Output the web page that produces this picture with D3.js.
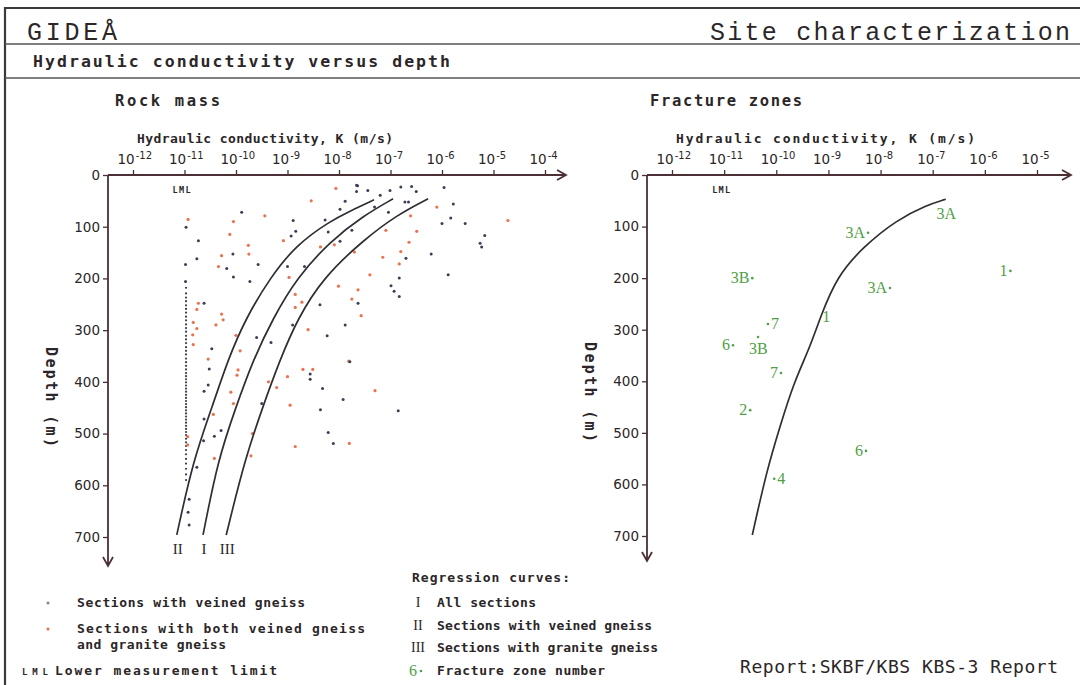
<!DOCTYPE html>
<html>
<head>
<meta charset="utf-8">
<script src="https://cdn.jsdelivr.net/npm/d3@7"></script>
<style>
body { margin: 0; background: #fff; }
svg text { fill: #2b2627; }
</style>
</head>
<body>
<div id="chart"></div>
<script>
// ---- data (K as log10 exponent, depth in m) ----
const kTicksLeft = [-12, -11, -10, -9, -8, -7, -6, -5, -4];
const kTicksRight = [-12, -11, -10, -9, -8, -7, -6, -5];
const depthTicks = [0, 100, 200, 300, 400, 500, 600, 700];

// sections with veined gneiss (dark dots)
const veinedGneiss = [
  [-9.89,72],[-10.97,101],[-10.73,127],[-10.76,162],[-10.98,173],[-8.89,88],[-8.84,109],[-8.93,118],
  [-8.27,87],[-7.88,51],[-7.98,66],[-7.64,21],[-7.75,107],[-7.98,128],[-8.21,110],[-10.06,153],
  [-10.18,181],[-10.05,197],[-9.73,206],[-9.57,173],[-9.0,177],[-8.67,177],[-8.37,251],[-7.88,290],
  [-8.23,311],[-8.90,290],[-9.32,324],[-9.60,314],[-10.47,336],[-10.62,248],[-10.98,206],[-7.63,248],
  [-7.66,20],[-7.66,32],[-7.44,30],[-7.20,39],[-7.01,30],[-6.80,23],[-6.59,22],[-6.50,32],
  [-5.96,24],[-6.72,52],[-6.65,52],[-7.04,72],[-7.31,62],[-5.78,56],[-5.83,83],[-6.0,94],
  [-5.55,94],[-5.17,117],[-5.26,132],[-5.23,139],[-6.70,161],[-6.21,153],[-6.83,199],[-5.88,193],
  [-6.99,214],[-6.93,225],[-6.83,235],[-10.52,375],[-10.62,418],[-10.54,406],[-10.62,472],[-10.63,514],
  [-10.42,505],[-10.29,494],[-10.76,565],[-8.56,385],[-8.56,395],[-8.32,413],[-7.92,434],[-8.36,454],
  [-8.21,498],[-8.11,519],[-7.79,361],[-9.50,442],[-6.85,456],[-10.91,627],[-10.93,652],[-10.91,677]
];

// sections with both veined gneiss and granite gneiss (orange dots)
const bothGneiss = [
  [-10.93,86],[-10.05,90],[-10.12,115],[-9.44,79],[-8.54,50],[-9.76,136],[-9.75,153],[-10.28,156],
  [-10.34,177],[-9.08,127],[-8.36,139],[-8.09,135],[-7.70,149],[-8.97,198],[-8.85,231],[-8.72,246],
  [-8.85,256],[-8.01,215],[-7.75,240],[-10.73,248],[-10.76,260],[-10.83,285],[-10.76,297],[-10.84,309],
  [-10.83,328],[-10.28,269],[-10.25,280],[-10.39,290],[-10.0,310],[-9.92,340],[-10.54,356],[-8.60,299],
  [-7.81,360],[-8.06,26],[-6.10,62],[-6.61,79],[-7.09,107],[-6.49,109],[-6.64,130],[-6.80,148],
  [-7.15,159],[-6.83,172],[-7.40,193],[-7.63,222],[-7.57,272],[-4.72,88],[-9.96,377],[-9.98,387],
  [-10.10,420],[-10.05,442],[-10.44,463],[-10.42,548],[-9.37,400],[-9.21,411],[-9.0,390],[-8.70,376],
  [-8.51,376],[-8.95,445],[-9.68,500],[-9.71,543],[-8.85,525],[-7.80,519],[-10.94,506],[-10.94,522],
  [-7.30,417]
];

// sections at the lower measurement limit
const lmlK = -10.97;
const lmlDepths = [218, 229, 237, 244, 252, 259, 266, 274, 281, 289, 296, 303, 311, 318, 325, 333,
  340, 347, 355, 362, 369, 376, 383, 389, 395, 401, 407, 413, 419, 425, 431, 437, 443, 449, 455,
  461, 467, 473, 479, 485, 491, 497, 503, 510, 517, 524, 532, 540, 549, 558, 568, 579, 590];

// regression curves
const curveI = [[-10.64,696],[-10.35,551],[-10.02,454],[-9.67,358],[-9.28,277],[-8.82,199],[-8.17,128],[-7.53,79],[-6.95,46]];
const curveII = [[-11.15,696],[-10.83,551],[-10.45,445],[-10.16,358],[-9.81,277],[-9.34,199],[-8.83,135],[-8.17,89],[-7.79,70],[-7.32,48]];
const curveIII = [[-10.19,696],[-9.83,551],[-9.50,454],[-9.15,358],[-8.80,277],[-8.31,199],[-7.53,126],[-6.87,77],[-6.27,46]];

// fracture zones
const fractureCurve = [[-10.46,698],[-10.18,572],[-9.93,488],[-9.67,404],[-9.35,333],[-9.16,277],[-8.84,197],[-8.33,139],[-7.69,87],[-7.11,58],[-6.75,47]];
const zoneNames = ["3A", "3A", "3B", "3A", "1", "1", "7", "6", "3B", "7", "2", "6", "4"];
const zoneK =     [-6.74, -8.24, -10.46, -7.82, -5.51, -9.04, -10.16, -10.83, -10.35, -9.91, -10.50, -8.28, -10.04];
const zoneDepth = [76, 112, 200, 219, 186, 275, 289, 330, 314, 384, 456, 535, 589];

// ---- layout ----
const W = 1080, H = 685;
const mono = "'DejaVu Sans Mono', monospace";
const sans = "'DejaVu Sans', sans-serif";
const serif = "'Liberation Serif', 'DejaVu Serif', serif";
const headFont = "'Liberation Mono', 'DejaVu Sans Mono', monospace";
const axisColor = "#4b3036";
const darkDot = "#3b3f56";
const orangeDot = "#e8744f";
const green = "#4f9f45";

const svg = d3.select("#chart")
  .append("svg")
  .attr("width", W)
  .attr("height", H);

svg.append("rect").attr("width", W).attr("height", H).attr("fill", "#fff");

// frame
svg.append("path").attr("d", "M5,685 V8 H1080").attr("fill", "none").attr("stroke", "#3a3a3a").attr("stroke-width", 2.2);
svg.append("line").attr("x1", 5).attr("x2", W).attr("y1", 44).attr("y2", 44).attr("stroke", "#555").attr("stroke-width", 1.5);
svg.append("line").attr("x1", 5).attr("x2", W).attr("y1", 78).attr("y2", 78).attr("stroke", "#555").attr("stroke-width", 1.5);

function label(x, y, txt, opts) {
  const t = svg.append("text")
    .attr("x", x).attr("y", y)
    .attr("font-family", opts.font || mono)
    .attr("font-size", opts.size || 13)
    .attr("font-weight", opts.bold ? "bold" : "normal")
    .text(txt);
  if (opts.len) t.attr("textLength", opts.len).attr("lengthAdjust", "spacing");
  if (opts.anchor) t.attr("text-anchor", opts.anchor);
  if (opts.fill) t.style("fill", opts.fill);
  return t;
}

label(27, 40, "GIDEÅ", { font: headFont, size: 25, len: 90 });
label(710, 40, "Site characterization", { font: headFont, size: 25, len: 360 });
label(33, 67, "Hydraulic conductivity versus depth", { size: 16.5, bold: true, len: 417 });

// ---- one panel ----
function panel(cfg) {
  const x = d3.scaleLog().domain([1e-12, Math.pow(10, cfg.kTicks[cfg.kTicks.length - 1])]).range(cfg.xRange);
  const y = d3.scaleLinear().domain([0, 700]).range(cfg.yRange);
  const ox = cfg.originX, oy = y(0);

  // x axis on top
  const gx = svg.append("g")
    .attr("transform", `translate(0,${oy})`)
    .call(d3.axisTop(x).tickValues(cfg.kTicks.map(e => Math.pow(10, e))).tickSize(5).tickPadding(6).tickFormat(() => "10"));
  gx.select(".domain").remove();
  gx.selectAll(".tick line").attr("stroke", axisColor).attr("stroke-width", 1.3);
  gx.selectAll(".tick text")
    .attr("text-anchor", "start").attr("x", -16)
    .attr("font-family", sans).attr("font-size", 13.5).style("fill", "#2b2627")
    .each(function(d) {
      d3.select(this).append("tspan")
        .attr("dy", -5).attr("dx", 1).attr("font-size", 10)
        .text(String(Math.round(Math.log10(d))));
    });

  // y axis
  const gy = svg.append("g")
    .attr("transform", `translate(${ox},0)`)
    .call(d3.axisLeft(y).tickValues(depthTicks).tickSize(5).tickPadding(3));
  gy.select(".domain").remove();
  gy.selectAll(".tick line").attr("stroke", axisColor).attr("stroke-width", 1.3);
  gy.selectAll(".tick text").attr("font-family", sans).attr("font-size", 13.5).style("fill", "#2b2627");

  // axis lines with open arrow heads
  const ax = cfg.arrowX, ay = cfg.arrowY;
  svg.append("path")
    .attr("d", `M${ox},${oy} H${ax} M${ax - 9},${oy - 5} L${ax},${oy} L${ax - 9},${oy + 5}`)
    .attr("fill", "none").attr("stroke", axisColor).attr("stroke-width", 1.8);
  svg.append("path")
    .attr("d", `M${ox},${oy} V${ay} M${ox - 5},${ay - 9} L${ox},${ay} L${ox + 5},${ay - 9}`)
    .attr("fill", "none").attr("stroke", axisColor).attr("stroke-width", 1.8);

  label(cfg.titleX, 106, cfg.title, { size: 15.5, bold: true, len: cfg.titleLen });
  label(cfg.kLabelX, 143, "Hydraulic conductivity, K (m/s)", { size: 13, bold: true, len: cfg.kLabelLen });
  label(x(1e-11) - 12, 193, "LML", { size: 8.5, bold: true, len: 18 });

  svg.append("text")
    .attr("transform", `translate(${cfg.depthX},${cfg.depthY}) rotate(90)`)
    .attr("text-anchor", "middle")
    .attr("font-family", mono).attr("font-size", 15).attr("font-weight", "bold")
    .attr("textLength", 100).attr("lengthAdjust", "spacing")
    .text("Depth (m)");

  return { x, y };
}

// ---- left: rock mass ----
const L = panel({
  kTicks: kTicksLeft, xRange: [133, 545], yRange: [175, 537], originX: 108,
  arrowX: 566, arrowY: 566, title: "Rock mass", titleX: 115, titleLen: 105,
  kLabelX: 137, kLabelLen: 256, depthX: 46, depthY: 397
});

const line = (sc) => d3.line()
  .x(d => sc.x(Math.pow(10, d[0])))
  .y(d => sc.y(d[1]))
  .curve(d3.curveBasis);

svg.append("g").selectAll("circle")
  .data(lmlDepths)
  .join("circle")
  .attr("cx", L.x(Math.pow(10, lmlK)))
  .attr("cy", d => L.y(d))
  .attr("r", 1.1)
  .attr("fill", darkDot);

svg.append("g").selectAll("circle")
  .data(bothGneiss)
  .join("circle")
  .attr("cx", d => L.x(Math.pow(10, d[0])))
  .attr("cy", d => L.y(d[1]))
  .attr("r", 1.6)
  .attr("fill", orangeDot);

svg.append("g").selectAll("circle")
  .data(veinedGneiss)
  .join("circle")
  .attr("cx", d => L.x(Math.pow(10, d[0])))
  .attr("cy", d => L.y(d[1]))
  .attr("r", 1.5)
  .attr("fill", darkDot);

const curves = [{ name: "II", pts: curveII }, { name: "I", pts: curveI }, { name: "III", pts: curveIII }];
curves.forEach(c => {
  svg.append("path")
    .datum(c.pts)
    .attr("d", line(L))
    .attr("fill", "none")
    .attr("stroke", "#2e2e33")
    .attr("stroke-width", 1.7);
  const p0 = c.pts[0];
  label(L.x(Math.pow(10, p0[0])) + 1, 554, c.name, { font: serif, size: 15, anchor: "middle" });
});

// ---- right: fracture zones ----
const R = panel({
  kTicks: kTicksRight, xRange: [672, 1037], yRange: [175, 536], originX: 647,
  arrowX: 1071, arrowY: 561, title: "Fracture zones", titleX: 650, titleLen: 152,
  kLabelX: 676, kLabelLen: 299, depthX: 585, depthY: 392
});

svg.append("path")
  .datum(fractureCurve)
  .attr("d", line(R))
  .attr("fill", "none")
  .attr("stroke", "#2e2e33")
  .attr("stroke-width", 1.7);

// label placement relative to the zone's point: left, right, below, or on
const zonePlace = ["on", "left", "left", "left", "left", "on", "right", "left", "below", "left", "left", "left", "right"];

zoneNames.forEach((name, i) => {
  const px = R.x(Math.pow(10, zoneK[i])), py = R.y(zoneDepth[i]);
  const place = zonePlace[i];
  if (place !== "on") {
    svg.append("circle").attr("cx", px).attr("cy", py).attr("r", 1.3).attr("fill", green);
  }
  const t = svg.append("text")
    .attr("font-family", serif).attr("font-size", 16).style("fill", green)
    .text(name);
  if (place === "left") t.attr("x", px - 3).attr("y", py + 5).attr("text-anchor", "end");
  else if (place === "right") t.attr("x", px + 3).attr("y", py + 5);
  else if (place === "below") t.attr("x", px - 9).attr("y", py + 17);
  else t.attr("x", px).attr("y", py + 5).attr("text-anchor", "middle");
});

// ---- legend ----
svg.append("circle").attr("cx", 48).attr("cy", 603).attr("r", 1.6).attr("fill", "#8a8a96");
svg.append("circle").attr("cx", 48).attr("cy", 629).attr("r", 1.6).attr("fill", orangeDot);
label(77, 607, "Sections with veined gneiss", { size: 13, bold: true, len: 228 });
label(77, 633, "Sections with both veined gneiss", { size: 13, bold: true, len: 288 });
label(77, 649, "and granite gneiss", { size: 13, bold: true, len: 149 });
label(22, 675, "LML", { size: 9, bold: true, len: 26 });
label(55, 675, "Lower measurement limit", { size: 13, bold: true, len: 222 });

label(412, 582, "Regression curves:", { size: 13, bold: true, len: 158 });
label(418, 607, "I", { font: serif, size: 14, anchor: "middle" });
label(418, 630, "II", { font: serif, size: 14, anchor: "middle" });
label(418, 652, "III", { font: serif, size: 14, anchor: "middle" });
label(437, 607, "All sections", { size: 13, bold: true, len: 99 });
label(437, 630, "Sections with veined gneiss", { size: 13, bold: true, len: 215 });
label(437, 652, "Sections with granite gneiss", { size: 13, bold: true, len: 221 });
label(409, 676, "6", { font: serif, size: 16, fill: green });
svg.append("circle").attr("cx", 421).attr("cy", 671).attr("r", 1.3).attr("fill", green);
label(437, 675, "Fracture zone number", { size: 13, bold: true, len: 168 });

label(740, 673, "Report:SKBF/KBS KBS-3 Report", { size: 18, len: 318 });
</script>
</body>
</html>
